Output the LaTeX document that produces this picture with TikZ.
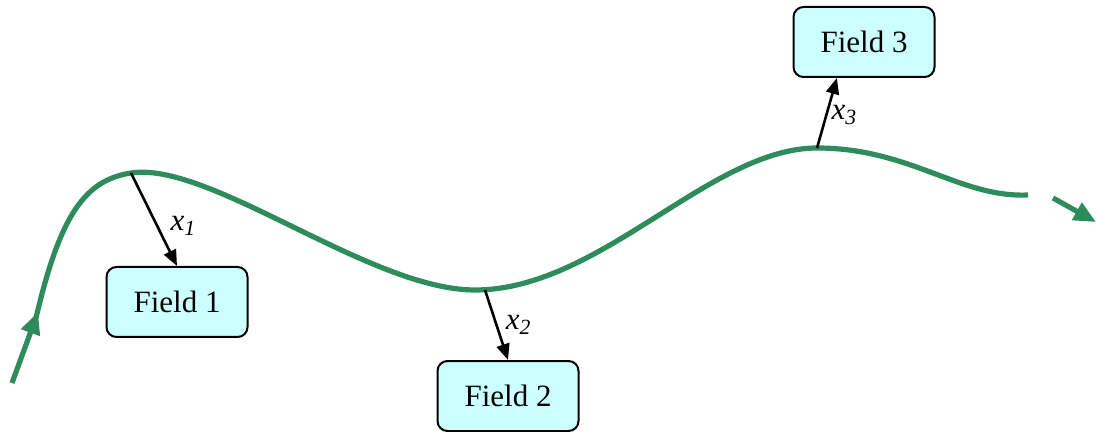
\documentclass[tikz,border=0pt]{standalone}
\usepackage{fontspec}
\setmainfont{Liberation Serif}
\usetikzlibrary{arrows.meta}
\definecolor{curvegreen}{RGB}{46,139,92}
\definecolor{fieldcyan}{RGB}{204,255,255}

\begin{document}
\begin{tikzpicture}[x=0.5pt,y=-0.5pt,font=\fontsize{15.5}{18}\selectfont,
  field/.style={draw,line width=1pt,rounded corners=5pt,minimum width=70.5pt,minimum height=35pt,fill=fieldcyan},
  path/.style={curvegreen,line width=2.6pt},
  pathtip/.style={-{Triangle[length=11pt,width=9.5pt]}},
  link/.style={-{Triangle[length=8pt,width=6.5pt]},line width=1.3pt},
  lbl/.style={inner sep=1pt}]
\useasboundingbox (0,0) rectangle (1096,432);
\node[field] (f1) at (177,302) {Field 1};
\node[field] (f2) at (508,396) {Field 2};
\node[field] (f3) at (864,42) {Field 3};
% the green path
\coordinate (s0) at (12,383);
\coordinate (s1) at (38,312);
\coordinate (p1) at (131,173);
\coordinate (p2) at (485,290);
\coordinate (p3) at (817,148);
\coordinate (e0) at (1028,195);
\coordinate (e1) at (1053,198);
\coordinate (e2) at (1096,222);
\draw[path,pathtip] (s0) -- (s1);
\draw[path] (36,318) .. controls (60,215) and (85,180) .. (p1)
  .. controls (210,161) and (370,290) .. (475,290)
  .. controls (600,290) and (710,148) .. (p3)
  .. controls (910,148) and (960,198) .. (e0);
\draw[path,pathtip] (e1) -- (e2);
% offsets
\draw[link] (p1) -- (f1.north) node[lbl,pos=0.57,right=5pt] {\textit{x}\textsubscript{\textit{1}}};
\draw[link] (p2) -- (f2.north) node[lbl,pos=0.5,right=3pt] {\textit{x}\textsubscript{\textit{2}}};
\draw[link] (p3) -- (f3.233) node[lbl,pos=0.47,right=1pt] {\textit{x}\textsubscript{\textit{3}}};
\end{tikzpicture}
\end{document}
